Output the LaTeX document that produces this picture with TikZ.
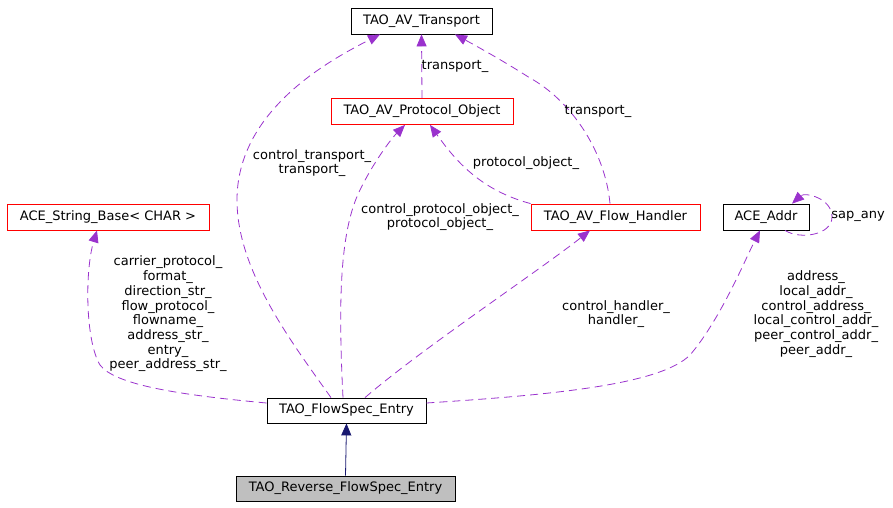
\documentclass[tikz,border=0pt]{standalone}
\usepackage{fontspec}
\setmainfont{DejaVu Sans}
\usetikzlibrary{shapes}
\usetikzlibrary{arrows.meta}
\definecolor{usecol}{HTML}{9A32CD}
\definecolor{inhcol}{HTML}{191970}
\definecolor{cur}{HTML}{BFBFBF}
\begin{document}
\begin{tikzpicture}[x=1pt,y=-1pt]
			\tikzstyle{every node}=[font=\fontsize{13}{14.7}\selectfont]
			\tikzstyle{cls}=[rectangle,draw=black,line width=0.8pt,minimum height=26pt,inner sep=0pt]
			\tikzstyle{redcls}=[cls,draw=red]
			\tikzstyle{usage}=[draw=usecol,line width=0.8pt,dash pattern=on 8pt off 5pt,-{Triangle[length=12pt,width=10pt]}]
			\tikzstyle{inherit}=[draw=inhcol,line width=0.8pt,-{Triangle[length=12pt,width=10pt]}]
			\tikzstyle{lbl}=[align=center,inner sep=0pt]
			\useasboundingbox (0,0) rectangle (893,507);
			
			\node[cls,minimum width=141pt] (tr) at (421.5,21) {TAO\_AV\_Transport};
			\node[redcls,minimum width=182pt] (po) at (422,111.5) {TAO\_AV\_Protocol\_Object};
			\node[redcls,minimum width=169pt] (fh) at (615.5,217) {TAO\_AV\_Flow\_Handler};
			\node[cls,minimum width=86pt] (addr) at (766,217) {ACE\_Addr};
			\node[redcls,minimum width=202pt] (sb) at (108,217) {ACE\_String\_Base< CHAR >};
			\node[cls,minimum width=159pt,minimum height=25pt] (fse) at (346.5,410.5) {TAO\_FlowSpec\_Entry};
			\node[cls,fill=cur,minimum width=219pt,minimum height=25pt] (rfse) at (345.5,488.5) {TAO\_Reverse\_FlowSpec\_Entry};
			
			% inheritance
			\draw[inherit] (rfse.north) -- (fse.south);
			
			% usage
			\draw[usage] ([xshift=-15.5pt]fse.north) .. controls (290,340) and (237,270) .. (237,200)
				.. controls (237,110) and (330,60) .. ([xshift=-41.5pt]tr.south);
			\draw[usage] ([xshift=-3.5pt]fse.north) .. controls (338,300) and (340,230) .. (360,190)
				.. controls (372,165) and (390,140) .. ([xshift=-17pt]po.south);
			\draw[usage] (po.north) -- (tr.south);
			\draw[usage] ([xshift=-5.5pt]fh.north) .. controls (605,150) and (570,100) .. (530,78)
				.. controls (505,62) and (480,48) .. ([xshift=33.5pt]tr.south);
			\draw[usage] (fh.north west) .. controls (480,190) and (455,160) .. ([xshift=8pt]po.south);
			\draw[usage] ([xshift=18.5pt]fse.north) .. controls (420,350) and (540,270) .. ([xshift=-25.5pt]fh.south);
			\draw[usage] ([yshift=7.5pt]fse.east) .. controls (550,395) and (660,385) .. (690,355)
				.. controls (720,320) and (745,260) .. ([xshift=-6pt]addr.south);
			\draw[usage] ([yshift=7.5pt]fse.west) .. controls (180,395) and (115,385) .. (100,365)
				.. controls (85,340) and (85,270) .. ([xshift=-11pt]sb.south);
			\draw[usage] ([xshift=19pt]addr.south) .. controls (800,240) and (832,235) .. (832,217)
				.. controls (832,198) and (805,192) .. ([xshift=26pt]addr.north);
			
			% labels
			\node[lbl] (l1) at (312,163) {control\_transport\_\\transport\_};
			\node[lbl] (l2) at (440,217) {control\_protocol\_object\_\\protocol\_object\_};
			\node[lbl] (l3) at (455,66) {transport\_};
			\node[lbl] (l4) at (598,111) {transport\_};
			\node[lbl] (l5) at (526,163) {protocol\_object\_};
			\node[lbl] (l6) at (616,314) {control\_handler\_\\handler\_};
			\node[lbl] (l7) at (816,314) {address\_\\local\_addr\_\\control\_address\_\\local\_control\_addr\_\\peer\_control\_addr\_\\peer\_addr\_};
			\node[lbl] (l8) at (168,314) {carrier\_protocol\_\\format\_\\direction\_str\_\\flow\_protocol\_\\flowname\_\\address\_str\_\\entry\_\\peer\_address\_str\_};
			\node[lbl] (l9) at (858,216) {sap\_any};
\end{tikzpicture}
\end{document}
